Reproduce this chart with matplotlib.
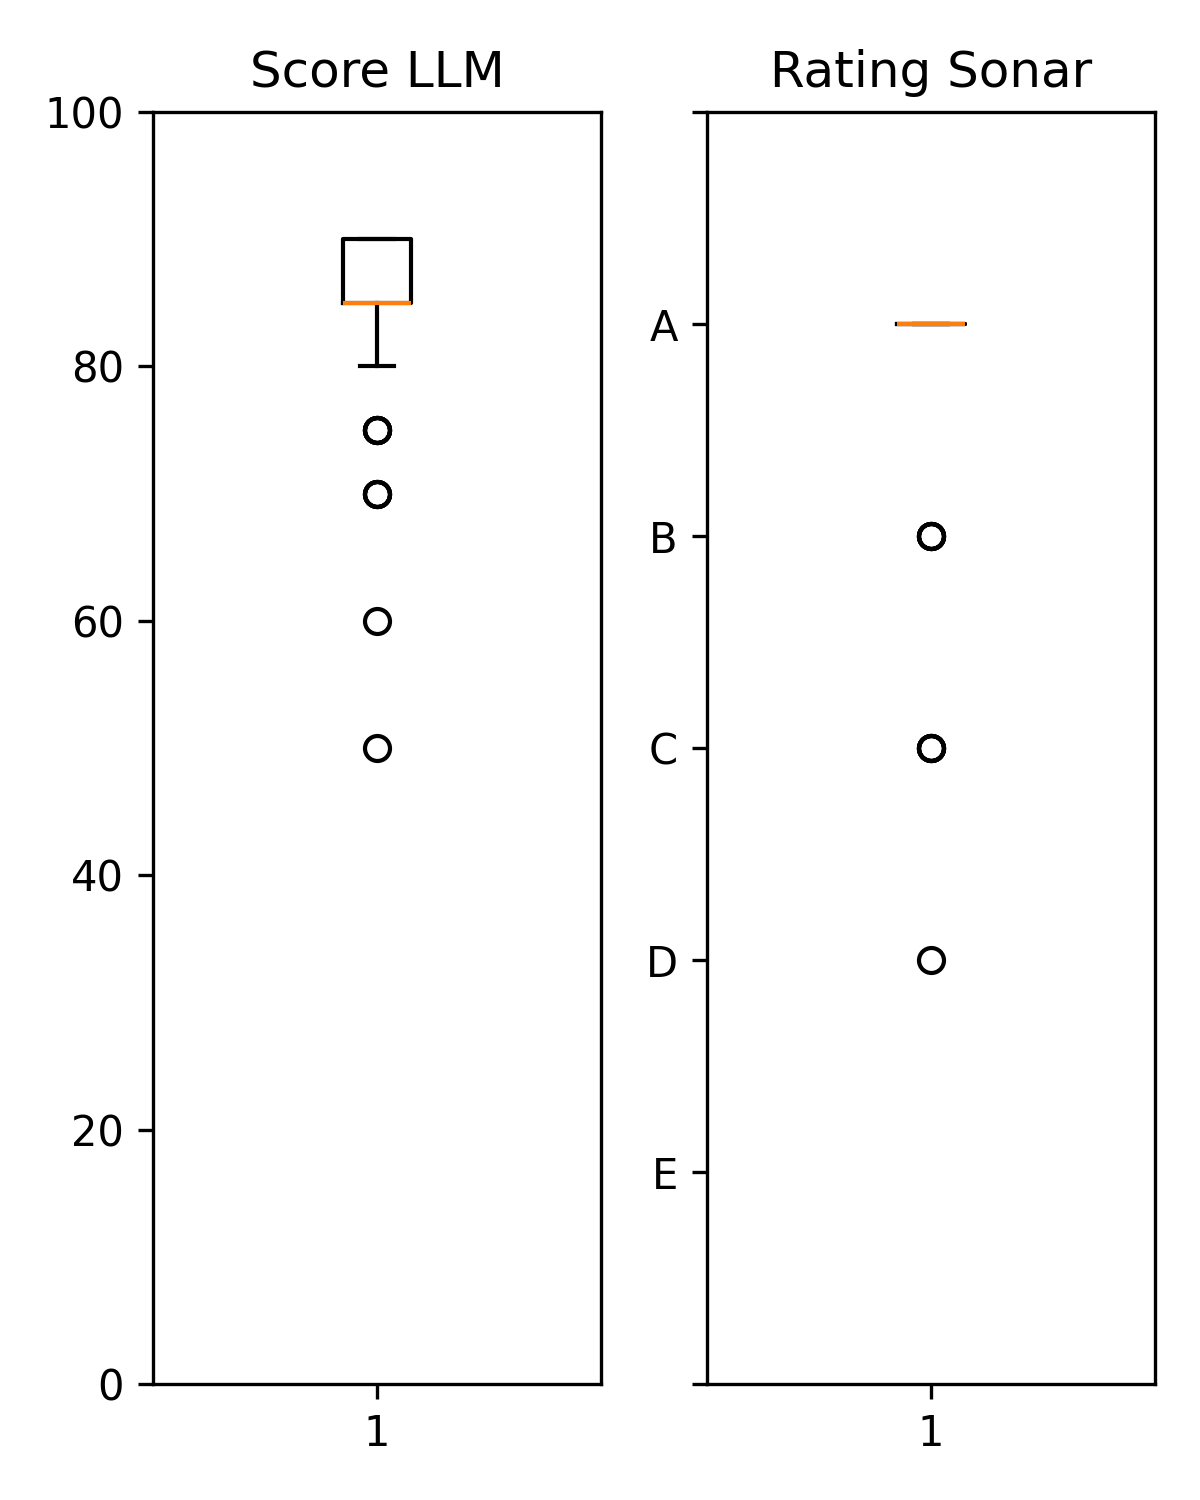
import matplotlib
matplotlib.use("Agg")
import matplotlib.pyplot as plt

# Score LLM values
score_values = [50, 60] + [70] * 4 + [75] * 5 + [80] + [85] * 25 + [90] * 15
# Rating Sonar values (E=1 ... A=5)
rating_values = [2] + [3] * 5 + [4] * 5 + [5] * 40
rating_ticks = [0, 1, 2, 3, 4, 5, 6]
rating_labels = ["", "E", "D", "C", "B", "A", ""]

fig, (ax1, ax2) = plt.subplots(1, 2, figsize=(4, 5), dpi=300)

ax1.boxplot(score_values)
ax1.set_title("Score LLM")
ax1.set_ylim(0, 100)

ax2.boxplot(rating_values)
ax2.set_title("Rating Sonar")
ax2.set_ylim(0, 6)
ax2.set_yticks(rating_ticks)
ax2.set_yticklabels(rating_labels)

fig.subplots_adjust(left=0.1275, right=0.9625, top=0.9253, bottom=0.0773, wspace=0.2366)
fig.savefig("out.png", dpi=300)
